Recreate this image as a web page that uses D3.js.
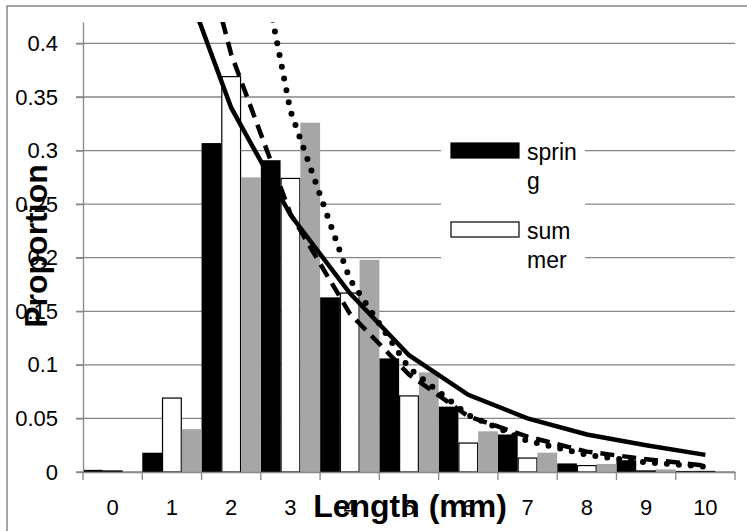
<!DOCTYPE html>
<html>
<head>
<meta charset="utf-8">
<script src="https://cdn.jsdelivr.net/npm/d3@7"></script>
<style>
  body { margin: 0; background: #fff; }
  text { font-family: "Liberation Sans", Arial, sans-serif; }
</style>
</head>
<body>
<div id="chart"></div>
<script>
// size classes (mm) and proportions per season
const categories = ["0", "1", "2", "3", "4", "5", "6", "7", "8", "9", "10"];
const seriesNames = ["spring", "summer", "autumn"];
const spring = [0.002, 0.018, 0.307, 0.291, 0.163, 0.106, 0.061, 0.035, 0.008, 0.011, 0.001];
const summer = [0.001, 0.069, 0.369, 0.274, 0.167, 0.071, 0.027, 0.013, 0.006, 0.001, 0.0005];
const autumn = [0, 0.040, 0.275, 0.326, 0.198, 0.093, 0.038, 0.018, 0.0075, 0.0025, 0];

// fitted curves (read at class centres, null = not drawn)
const fitSolid  = [null, 0.49, 0.34, 0.24, 0.167, 0.109, 0.072, 0.050, 0.035, 0.025, 0.016];
const fitDashed = [null, 0.60, 0.39, 0.241, 0.148, 0.091, 0.052, 0.033, 0.019, 0.012, 0.006];
const fitDotted = [null, null, 0.62, 0.337, 0.18, 0.097, 0.053, 0.029, 0.016, 0.009, 0.005];

const yTicks = [0, 0.05, 0.1, 0.15, 0.2, 0.25, 0.3, 0.35, 0.4];
const yTickLabels = ["0", "0.05", "0.1", "0.15", "0.2", "0.25", "0.3", "0.35", "0.4"];
const legendLines = [["sprin", "g"], ["sum", "mer"]];

const W = 747, H = 531;
const plotLeft = 83, plotRight = 735, plotTop = 22, plotBottom = 472;
const gridColor = "#868686";

const svg = d3.select("#chart")
  .append("svg")
  .attr("width", W)
  .attr("height", H);

// chart frame
svg.append("rect")
  .attr("x", 7).attr("y", 6)
  .attr("width", 780).attr("height", 560)
  .attr("fill", "#fff")
  .attr("stroke", gridColor)
  .attr("stroke-width", 1.5);

const x = d3.scaleBand().domain(categories).range([plotLeft, plotRight]).padding(0);
const xs = d3.scaleBand().domain(seriesNames).range([0, x.bandwidth()]).padding(0);
const y = d3.scaleLinear().domain([0, 0.42]).range([plotBottom, plotTop]);

// gridlines
svg.append("g")
  .selectAll("line")
  .data(yTicks)
  .join("line")
  .attr("x1", plotLeft - 7)
  .attr("x2", plotRight)
  .attr("y1", d => y(d))
  .attr("y2", d => y(d))
  .attr("stroke", gridColor)
  .attr("stroke-width", 1.3);

// bars
const fills = { spring: "#000000", summer: "#ffffff", autumn: "#a6a6a6" };
const values = { spring, summer, autumn };

const barData = [];
seriesNames.forEach(s => {
  values[s].forEach((v, i) => {
    if (v > 0) barData.push({ key: s, cat: categories[i], value: v });
  });
});

svg.append("g")
  .selectAll("rect")
  .data(barData)
  .join("rect")
  .attr("x", d => x(d.cat) + xs(d.key) + (d.key === "summer" ? 0.5 : 0))
  .attr("y", d => y(d.value))
  .attr("width", d => xs.bandwidth() - (d.key === "summer" ? 1 : 0))
  .attr("height", d => y(0) - y(d.value))
  .attr("fill", d => fills[d.key])
  .attr("stroke", d => d.key === "summer" ? "#000" : "none")
  .attr("stroke-width", 1.2);

// y axis
const yAxis = svg.append("g")
  .attr("transform", `translate(${plotLeft},0)`)
  .call(d3.axisLeft(y)
    .tickValues(yTicks)
    .tickFormat((d, i) => yTickLabels[i])
    .tickSize(7)
    .tickSizeOuter(0)
    .tickPadding(18));
yAxis.select(".domain").attr("stroke", gridColor).attr("stroke-width", 1.3);
yAxis.selectAll(".tick line").attr("stroke", gridColor).attr("stroke-width", 1.3);
yAxis.selectAll(".tick text")
  .attr("fill", "#000")
  .style("font-size", "22px")
  .style("font-family", "'Liberation Sans', Arial, sans-serif");

// x axis: labels at class centres, tick marks at class boundaries
const xAxis = svg.append("g")
  .attr("transform", `translate(0,${plotBottom})`)
  .call(d3.axisBottom(x).tickSize(0).tickPadding(27).tickSizeOuter(0));
xAxis.select(".domain").attr("stroke", gridColor).attr("stroke-width", 1.3);
xAxis.selectAll(".tick text")
  .attr("fill", "#000")
  .style("font-size", "22px")
  .style("font-family", "'Liberation Sans', Arial, sans-serif");

const boundaries = categories.map(c => x(c)).concat([x.range()[1]]);
svg.append("g")
  .selectAll("line")
  .data(boundaries)
  .join("line")
  .attr("x1", d => d).attr("x2", d => d)
  .attr("y1", plotBottom).attr("y2", plotBottom + 8)
  .attr("stroke", gridColor)
  .attr("stroke-width", 1.3);

// fitted curves, clipped to plot area
svg.append("clipPath").attr("id", "plotClip")
  .append("rect")
  .attr("x", plotLeft).attr("y", plotTop)
  .attr("width", plotRight - plotLeft).attr("height", plotBottom - plotTop);

const line = d3.line()
  .defined(d => d != null)
  .x((d, i) => x(categories[i]) + x.bandwidth() / 2)
  .y(d => y(d));

const curves = svg.append("g").attr("clip-path", "url(#plotClip)");

curves.append("path")
  .datum(fitSolid)
  .attr("d", line)
  .attr("fill", "none")
  .attr("stroke", "#000")
  .attr("stroke-width", 4.5);

curves.append("path")
  .datum(fitDashed)
  .attr("d", line)
  .attr("fill", "none")
  .attr("stroke", "#000")
  .attr("stroke-width", 4.5)
  .attr("stroke-dasharray", "14,8");

curves.append("path")
  .datum(fitDotted)
  .attr("d", line)
  .attr("fill", "none")
  .attr("stroke", "#000")
  .attr("stroke-width", 6)
  .attr("stroke-linecap", "round")
  .attr("stroke-dasharray", "0,12");

// legend
const legend = svg.append("g");
legend.append("rect")
  .attr("x", 441).attr("y", 120)
  .attr("width", 144).attr("height", 155)
  .attr("fill", "#fff");

const legendItems = legend.selectAll("g.item")
  .data(legendLines)
  .join("g")
  .attr("class", "item")
  .attr("transform", (d, i) => `translate(451, ${143 + i * 79})`);

legendItems.append("rect")
  .attr("width", 68)
  .attr("height", 15)
  .attr("fill", (d, i) => fills[seriesNames[i]])
  .attr("stroke", "#000")
  .attr("stroke-width", 1.2);

legendItems.each(function(d) {
  const t = d3.select(this).append("text")
    .attr("x", 76)
    .attr("y", 17)
    .style("font-size", "23px")
    .attr("fill", "#000");
  d.forEach((part, j) => {
    t.append("tspan")
      .attr("x", 76)
      .attr("dy", j === 0 ? 0 : 29)
      .text(part);
  });
});

// axis titles
svg.append("text")
  .attr("transform", "translate(47,246) rotate(-90)")
  .attr("text-anchor", "middle")
  .style("font-size", "32px")
  .style("font-weight", "bold")
  .attr("fill", "#000")
  .text("Proportion");

svg.append("text")
  .attr("x", 410)
  .attr("y", 517)
  .attr("text-anchor", "middle")
  .style("font-size", "32px")
  .style("font-weight", "bold")
  .attr("fill", "#000")
  .text("Length (mm)");
</script>
</body>
</html>
